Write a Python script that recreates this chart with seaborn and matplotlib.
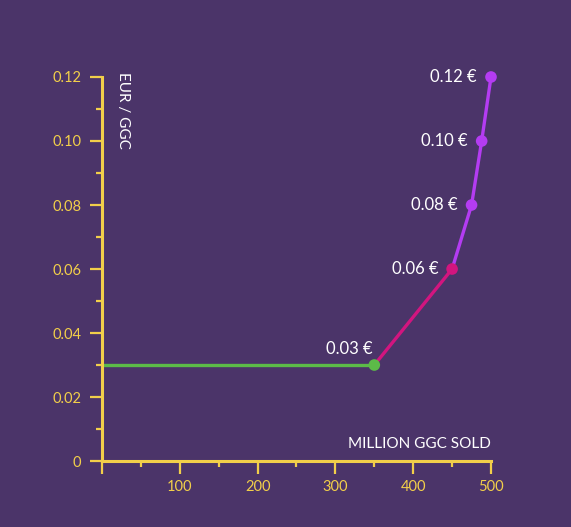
import numpy as np
import matplotlib.pyplot as plt
import pandas as pd
import seaborn as sns
from matplotlib.ticker import MultipleLocator, FixedLocator

# data
sold = [0, 350, 450, 475, 488, 500]
price = [0.03, 0.03, 0.06, 0.08, 0.10, 0.12]
point_labels = ["0.03 €", "0.06 €", "0.08 €", "0.10 €", "0.12 €"]
xticks = [0, 100, 200, 300, 400, 500]
xtick_labels = ["", "100", "200", "300", "400", "500"]
yticks = [0, 0.02, 0.04, 0.06, 0.08, 0.10, 0.12]
ytick_labels = ["0", "0.02", "0.04", "0.06", "0.08", "0.10", "0.12"]

BG = "#4b3469"
YEL = "#f2cf4a"
GREEN = "#5cbb48"
MAG = "#d2157f"
PURP = "#b43cf2"

sns.set_style("white")
plt.rcParams["font.family"] = ["Lato", "DejaVu Sans"]

df = pd.DataFrame({"sold": sold, "price": price})

fig = plt.figure(figsize=(5.71, 5.27), dpi=100, facecolor=BG)
ax = fig.add_axes([0.1786, 0.1252, 0.6813, 0.7287])
ax.set_facecolor(BG)

# line segments
sns.lineplot(data=df.iloc[0:2], x="sold", y="price", color=GREEN, lw=2.4, ax=ax)
sns.lineplot(data=df.iloc[1:3], x="sold", y="price", color=MAG, lw=2.4, ax=ax)
sns.lineplot(data=df.iloc[2:6], x="sold", y="price", color=PURP, lw=2.4, ax=ax)
for l in ax.lines:
    l.set_clip_on(False)

# markers
pts = df.iloc[1:]
cols = [GREEN, MAG, PURP, PURP, PURP]
ax.scatter(pts["sold"], pts["price"], c=cols, s=70, zorder=5, clip_on=False, linewidths=0)

for i, (x, y) in enumerate(zip(pts["sold"], pts["price"])):
    if i == 0:
        ax.annotate(point_labels[i], (x, y), xytext=(-1, 6), textcoords="offset points",
                    ha="right", va="bottom", color="white", fontsize=12)
    else:
        ax.annotate(point_labels[i], (x, y), xytext=(-10, 0), textcoords="offset points",
                    ha="right", va="center", color="white", fontsize=12)

ax.set_xlim(0, 500)
ax.set_ylim(0, 0.12)

for s in ["top", "right"]:
    ax.spines[s].set_visible(False)
for s in ["left", "bottom"]:
    ax.spines[s].set_color(YEL)
    ax.spines[s].set_linewidth(2.2)

ax.xaxis.set_major_locator(FixedLocator(xticks))
ax.set_xticklabels(xtick_labels)
ax.xaxis.set_minor_locator(MultipleLocator(50))
ax.yaxis.set_major_locator(FixedLocator(yticks))
ax.set_yticklabels(ytick_labels)
ax.yaxis.set_minor_locator(MultipleLocator(0.01))

ax.tick_params(axis="both", which="major", length=9, width=1.6, color=YEL,
               labelcolor=YEL, labelsize=10.5, direction="out", bottom=True, left=True)
ax.tick_params(axis="both", which="minor", length=4.5, width=1.6, color=YEL,
               direction="out", bottom=True, left=True)
ax.tick_params(axis="x", pad=5)
ax.tick_params(axis="y", pad=6)

ax.set_xlabel("")
ax.set_ylabel("")
ax.text(0.035, 1.012, "EUR / GGC", transform=ax.transAxes, rotation=-90, ha="left", va="top",
        color="white", fontsize=11)
ax.text(1.0, 0.025, "MILLION GGC SOLD", transform=ax.transAxes, ha="right", va="bottom",
        color="white", fontsize=11)

plt.savefig("out.png", dpi=100, facecolor=BG)
